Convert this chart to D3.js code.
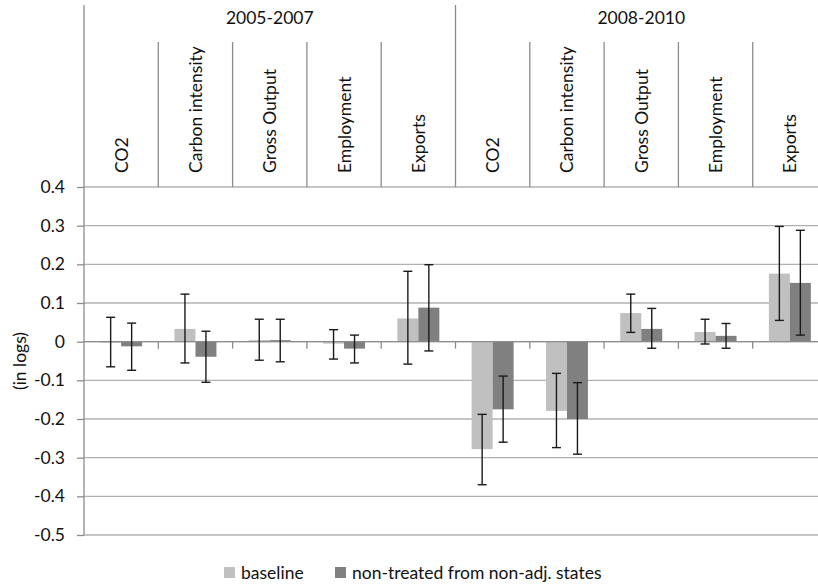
<!DOCTYPE html>
<html>
<head>
<meta charset="utf-8">
<script src="https://cdn.jsdelivr.net/npm/d3@7"></script>
<style>
  html, body { margin: 0; padding: 0; background: #fff; }
  svg { display: block; font-family: Lato, "Open Sans", sans-serif; }
</style>
</head>
<body>
<svg id="chart" width="818" height="585"></svg>
<script>
// ---- data ----
const groups = ["2005-2007", "2008-2010"];
const categories = ["CO2", "Carbon intensity", "Gross Output", "Employment", "Exports"];
const seriesNames = ["baseline", "non-treated from non-adj. states"];

// order: 2005-2007 (5 categories), then 2008-2010 (5 categories)
const baselineValues = [-0.003, 0.033, 0.004, -0.005, 0.060, -0.278, -0.179, 0.074, 0.025, 0.176];
const baselineLow    = [-0.065, -0.055, -0.048, -0.045, -0.058, -0.370, -0.274, 0.024, -0.006, 0.055];
const baselineHigh   = [0.063, 0.123, 0.058, 0.031, 0.182, -0.188, -0.082, 0.123, 0.058, 0.298];

const nonTreatedValues = [-0.012, -0.039, 0.004, -0.018, 0.088, -0.175, -0.200, 0.033, 0.015, 0.152];
const nonTreatedLow    = [-0.074, -0.105, -0.052, -0.055, -0.024, -0.260, -0.291, -0.017, -0.017, 0.017];
const nonTreatedHigh   = [0.048, 0.027, 0.058, 0.017, 0.199, -0.089, -0.106, 0.086, 0.047, 0.288];

const yTicks = [0.4, 0.3, 0.2, 0.1, 0, -0.1, -0.2, -0.3, -0.4, -0.5];
const yTickLabels = ["0.4", "0.3", "0.2", "0.1", "0", "-0.1", "-0.2", "-0.3", "-0.4", "-0.5"];
const yTitle = "(in logs)";

// ---- build rows ----
const keys = [];
groups.forEach(g => categories.forEach(c => keys.push(g + "|" + c)));
const seriesData = [
  { name: seriesNames[0], values: baselineValues, low: baselineLow, high: baselineHigh, color: "#c0c0c0" },
  { name: seriesNames[1], values: nonTreatedValues, low: nonTreatedLow, high: nonTreatedHigh, color: "#808080" }
];

// ---- layout ----
const left = 84, right = 827, plotTop = 187, plotBottom = 535;
const headerTop = 5, catDividerTop = 42;
const fs = "17.5px";

const svg = d3.select("#chart");
const x = d3.scaleBand().domain(keys).range([left, right]).padding(0);
const xs = d3.scaleBand().domain(seriesNames).range([0, x.bandwidth()]).paddingInner(0).paddingOuter(0.77);
const y = d3.scaleLinear().domain([-0.5, 0.4]).range([plotBottom, plotTop]);
const gx = d3.scaleBand().domain(groups).range([left, right]).padding(0);

const gridColor = "#b2b2b2";
const axisColor = "#8c8c8c";
const textColor = "#111";

// gridlines
svg.append("g").selectAll("line").data(yTicks).join("line")
  .attr("x1", left).attr("x2", right)
  .attr("y1", d => y(d)).attr("y2", d => y(d))
  .attr("stroke", gridColor).attr("stroke-width", 1.3);

// bars
seriesData.forEach(s => {
  svg.append("g").selectAll("rect").data(keys).join("rect")
    .attr("x", (k) => x(k) + xs(s.name))
    .attr("width", xs.bandwidth())
    .attr("y", (k, i) => Math.min(y(s.values[i]), y(0)))
    .attr("height", (k, i) => Math.abs(y(s.values[i]) - y(0)))
    .attr("fill", s.color);
});

// zero axis with tick marks at category boundaries
const zy = y(0);
svg.append("line").attr("x1", left).attr("x2", right).attr("y1", zy).attr("y2", zy)
  .attr("stroke", axisColor).attr("stroke-width", 1.3);
svg.append("g").selectAll("line").data(keys.slice(1).concat(["__end"])).join("line")
  .attr("x1", k => k === "__end" ? right : x(k))
  .attr("x2", k => k === "__end" ? right : x(k))
  .attr("y1", zy).attr("y2", zy + 7)
  .attr("stroke", axisColor).attr("stroke-width", 1.3);

// error bars
const cap = 4.5;
seriesData.forEach(s => {
  const g = svg.append("g").attr("stroke", "#1a1a1a").attr("stroke-width", 1.4);
  keys.forEach((k, i) => {
    const cx = x(k) + xs(s.name) + xs.bandwidth() / 2;
    const yl = y(s.low[i]), yh = y(s.high[i]);
    g.append("line").attr("x1", cx).attr("x2", cx).attr("y1", yh).attr("y2", yl);
    g.append("line").attr("x1", cx - cap).attr("x2", cx + cap).attr("y1", yh).attr("y2", yh);
    g.append("line").attr("x1", cx - cap).attr("x2", cx + cap).attr("y1", yl).attr("y2", yl);
  });
});

// left axis
const yAxis = d3.axisLeft(y).tickValues(yTicks)
  .tickFormat((d, i) => yTickLabels[i]).tickSizeInner(7).tickSizeOuter(0).tickPadding(12);
const ya = svg.append("g").attr("transform", `translate(${left},0)`).call(yAxis);
ya.select(".domain").remove();
ya.selectAll(".tick line").attr("stroke", axisColor).attr("stroke-width", 1.3);
ya.selectAll(".tick text").attr("fill", textColor).style("font-size", fs)
  .style("font-family", "Lato, 'Open Sans', sans-serif");
svg.append("line").attr("x1", left).attr("x2", left).attr("y1", headerTop).attr("y2", plotBottom)
  .attr("stroke", axisColor).attr("stroke-width", 1.3);

// header: group dividers
svg.append("g").selectAll("line").data(groups.slice(1)).join("line")
  .attr("x1", g => gx(g)).attr("x2", g => gx(g))
  .attr("y1", headerTop).attr("y2", plotTop)
  .attr("stroke", axisColor).attr("stroke-width", 1.3);
// category dividers (not at group boundaries)
svg.append("g").selectAll("line")
  .data(keys.filter(k => categories.indexOf(k.split("|")[1]) > 0)).join("line")
  .attr("x1", k => x(k)).attr("x2", k => x(k))
  .attr("y1", catDividerTop).attr("y2", plotTop)
  .attr("stroke", axisColor).attr("stroke-width", 1.3);

// group labels
svg.append("g").selectAll("text").data(groups).join("text")
  .attr("x", g => gx(g) + gx.bandwidth() / 2).attr("y", 23.5)
  .attr("text-anchor", "middle").attr("fill", textColor).style("font-size", fs)
  .text(g => g);

// category labels rotated
svg.append("g").selectAll("text").data(keys).join("text")
  .attr("transform", k => `translate(${x(k) + x.bandwidth() / 2 + 6.5},173) rotate(-90)`)
  .attr("text-anchor", "start").attr("fill", textColor).style("font-size", fs)
  .text(k => k.split("|")[1]);

// y title
svg.append("text").attr("transform", `translate(26,${(plotTop + plotBottom) / 2}) rotate(-90)`)
  .attr("text-anchor", "middle").attr("fill", textColor).style("font-size", fs)
  .text(yTitle);

// legend
const legendX = [224, 335];
const lg = svg.append("g");
seriesData.forEach((s, i) => {
  lg.append("rect").attr("x", legendX[i]).attr("y", 567).attr("width", 11).attr("height", 11).attr("fill", s.color);
  lg.append("text").attr("x", legendX[i] + 17).attr("y", 578.5).attr("fill", textColor)
    .style("font-size", fs).text(s.name);
});
</script>
</body>
</html>
